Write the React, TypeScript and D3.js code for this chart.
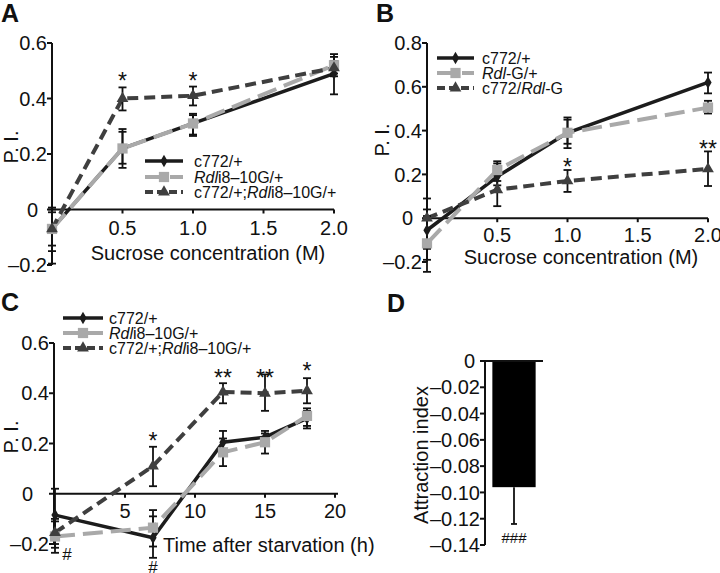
import React from 'react';
import * as d3 from 'd3';

const FONT = '"Liberation Sans", Arial, Helvetica, sans-serif';

// ---------- Data ----------
const sucrose = [0, 0.5, 1.0, 2.0];
const sucroseTicks = [0.5, 1.0, 1.5, 2.0];
const piTicksAC = [-0.2, 0, 0.2, 0.4, 0.6];
const piTicksB = [-0.2, 0, 0.2, 0.4, 0.6, 0.8];

// Panel A
const aC772 = [-0.07, 0.22, 0.31, 0.49];
const aC772Lo = [-0.13, 0.15, 0.27, 0.415];
const aC772Hi = [-0.01, 0.29, 0.345, 0.56];
const aRdl = [-0.07, 0.22, 0.31, 0.52];
const aRdlLo = [-0.15, 0.165, 0.265, 0.49];
const aRdlHi = [0.007, 0.28, 0.34, 0.55];
const aCross = [-0.07, 0.40, 0.41, 0.51];
const aCrossLo = [-0.195, 0.357, 0.375, 0.48];
const aCrossHi = [0.0, 0.44, 0.443, 0.535];
const aStarX = [0.5, 1.0];
const aStarY = [0.48, 0.48];
const aStarText = ['*', '*'];

// Panel B
const bC772 = [-0.055, 0.19, 0.39, 0.62];
const bC772Lo = [-0.14, 0.15, 0.32, 0.57];
const bC772Hi = [0.04, 0.26, 0.46, 0.665];
const bRdl = [-0.115, 0.22, 0.39, 0.505];
const bRdlLo = [-0.245, 0.17, 0.34, 0.478];
const bRdlHi = [0.01, 0.25, 0.45, 0.536];
const bCross = [0.0, 0.13, 0.17, 0.225];
const bCrossLo = [-0.19, 0.055, 0.12, 0.147];
const bCrossHi = [0.09, 0.2, 0.22, 0.305];
const bStarX = [1.0, 2.0];
const bStarY = [0.255, 0.34];
const bStarText = ['*', '**'];

// Panel C
const hours = [0, 7, 12, 15, 18];
const hourTicks = [5, 10, 15, 20];
const cC772 = [-0.085, -0.175, 0.205, 0.225, 0.30];
const cC772Lo = [-0.215, -0.255, 0.16, 0.19, 0.26];
const cC772Hi = [0.02, -0.065, 0.25, 0.25, 0.34];
const cRdl = [-0.17, -0.135, 0.165, 0.205, 0.31];
const cRdlLo = [-0.235, -0.21, 0.11, 0.16, 0.27];
const cRdlHi = [-0.11, -0.09, 0.22, 0.24, 0.33];
const cCross = [-0.155, 0.11, 0.405, 0.40, 0.41];
const cCrossLo = [-0.2, 0.03, 0.36, 0.33, 0.36];
const cCrossHi = [-0.1, 0.187, 0.44, 0.475, 0.46];
const cStarX = [7, 12, 15, 18];
const cStarY = [0.23, 0.48, 0.48, 0.51];
const cStarText = ['*', '**', '**', '*'];
const cHashX = [0, 7];
const cHashY = [-0.24, -0.29];

// Panel D
const dValue = -0.096;
const dErrLow = -0.124;
const dTicks = [0, -0.02, -0.04, -0.06, -0.08, -0.10, -0.12, -0.14];

// ---------- Styles ----------
type Kind = 'c772' | 'rdl' | 'cross';
const STYLE: Record<Kind, { color: string; width: number; dash: string; symbol: d3.SymbolType; size: number }> = {
  c772: { color: '#1c1c1c', width: 3.5, dash: '', symbol: d3.symbolDiamond, size: 45 },
  rdl: { color: '#a9a9a9', width: 4, dash: '20 8', symbol: d3.symbolSquare, size: 105 },
  cross: { color: '#3f3f3f', width: 4, dash: '11 6', symbol: d3.symbolTriangle, size: 60 },
};

const FS = 20;

const fmtPI = (v: number) => (v === 0 ? '0' : v < 0 ? '–' + Math.abs(v).toFixed(1) : v.toFixed(1));
const fmtD = (v: number) => (v === 0 ? '0' : '–' + Math.abs(v).toFixed(2));

interface Series { kind: Kind; values: number[]; lo: number[]; hi: number[] }

function Marks({ xs, series, x, y }: { xs: number[]; series: Series[]; x: any; y: any }) {
  const line = d3.line<number>().x((_, i) => x(xs[i])).y((d) => y(d));
  return (
    <g>
      {series.map((s) => {
        const st = STYLE[s.kind];
        return (
          <path key={s.kind + 'l'} d={line(s.values) || ''} fill="none" stroke={st.color}
            strokeWidth={st.width} strokeDasharray={st.dash} />
        );
      })}
      {series.map((s) =>
        s.values.map((_, i) => (
          <g key={s.kind + 'e' + i} stroke="#111" strokeWidth={1.8}>
            <line x1={x(xs[i])} x2={x(xs[i])} y1={y(s.lo[i])} y2={y(s.hi[i])} />
            <line x1={x(xs[i]) - 4} x2={x(xs[i]) + 4} y1={y(s.lo[i])} y2={y(s.lo[i])} />
            <line x1={x(xs[i]) - 4} x2={x(xs[i]) + 4} y1={y(s.hi[i])} y2={y(s.hi[i])} />
          </g>
        ))
      )}
      {series.map((s) => {
        const st = STYLE[s.kind];
        const sym = d3.symbol().type(st.symbol).size(st.size)();
        return s.values.map((v, i) => (
          <path key={s.kind + 'm' + i} d={sym || ''} transform={`translate(${x(xs[i])},${y(v)})`} fill={st.color} />
        ));
      })}
    </g>
  );
}

function Legend({ x0, x1, tx, ys, labels }: { x0: number; x1: number; tx: number; ys: number[]; labels: React.ReactNode[] }) {
  const kinds: Kind[] = ['c772', 'rdl', 'cross'];
  return (
    <g>
      {kinds.map((k, i) => {
        const st = STYLE[k];
        const sym = d3.symbol().type(st.symbol).size(st.size)();
        const mx = (x0 + x1) / 2;
        return (
          <g key={k}>
            <line x1={x0} x2={x1} y1={ys[i]} y2={ys[i]} stroke={st.color} strokeWidth={st.width}
              strokeDasharray={k === 'rdl' ? '20 5 0 0' : k === 'cross' ? '8 4' : ''} />
            <path d={sym || ''} transform={`translate(${mx},${ys[i]})`} fill={st.color} />
            <text x={tx} y={ys[i]} dy="0.36em" fontSize={16} fill="#111">{labels[i]}</text>
          </g>
        );
      })}
    </g>
  );
}

const It = ({ children }: { children: React.ReactNode }) => <tspan fontStyle="italic">{children}</tspan>;

const labelsRdli = [
  <>c772/+</>,
  <><It>Rdl</It>i8–10G/+</>,
  <>c772/+;<It>Rdl</It>i8–10G/+</>,
];
const labelsRdlG = [
  <>c772/+</>,
  <><It>Rdl</It>-G/+</>,
  <>c772/<It>Rdl</It>-G</>,
];

function YAxis({ y, ax, ticks, fmt, zeroShift }: { y: any; ax: number; ticks: number[]; fmt: (v: number) => string; zeroShift: number }) {
  const [a, b] = d3.extent(ticks) as [number, number];
  return (
    <g>
      <line x1={ax} x2={ax} y1={y(a)} y2={y(b)} stroke="#111" strokeWidth={2} />
      {ticks.map((t) => (
        <g key={t}>
          <line x1={ax - 5} x2={ax} y1={y(t)} y2={y(t)} stroke="#111" strokeWidth={2} />
          <text x={ax - 5 - (t === 0 ? zeroShift : 0)} y={y(t)} dy="0.36em" textAnchor="end" fontSize={FS} fill="#111">{fmt(t)}</text>
        </g>
      ))}
    </g>
  );
}

function XAxis({ x, y0, x0, x1, ticks, labelY, fmt }: { x: any; y0: number; x0: number; x1: number; ticks: number[]; labelY: number; fmt: (v: number) => string }) {
  return (
    <g>
      <line x1={x0} x2={x1} y1={y0} y2={y0} stroke="#111" strokeWidth={2} />
      {ticks.map((t) => (
        <g key={t}>
          <line x1={x(t)} x2={x(t)} y1={y0} y2={y0 + 4} stroke="#111" strokeWidth={2} />
          <text x={x(t)} y={labelY} textAnchor="middle" fontSize={FS} fill="#111">{fmt(t)}</text>
        </g>
      ))}
    </g>
  );
}

function Stars({ xs, ys, texts, x, y }: { xs: number[]; ys: number[]; texts: string[]; x: any; y: any }) {
  return (
    <g>
      {xs.map((v, i) => (
        <text key={i} x={x(v)} y={y(ys[i]) + 13} textAnchor="middle" fontSize={23} fill="#111">{texts[i]}</text>
      ))}
    </g>
  );
}

export default function App() {
  const xA = d3.scaleLinear().domain([0, 2]).range([52, 334]);
  const yA = d3.scaleLinear().domain([-0.2, 0.6]).range([265, 43]);
  const xB = d3.scaleLinear().domain([0, 2]).range([427, 708]);
  const yB = d3.scaleLinear().domain([-0.2, 0.8]).range([262, 43]);
  const xC = d3.scaleLinear().domain([0, 20]).range([55, 335]);
  const yC = d3.scaleLinear().domain([-0.2, 0.6]).range([544, 343]);
  const yD = d3.scaleLinear().domain([-0.14, 0]).range([545, 361]);
  const xD = d3.scaleBand().domain(['bar']).range([485, 543]).paddingInner(0).paddingOuter(0.17);

  const fmtX = (v: number) => v.toFixed(1);

  const seriesA: Series[] = [
    { kind: 'c772', values: aC772, lo: aC772Lo, hi: aC772Hi },
    { kind: 'rdl', values: aRdl, lo: aRdlLo, hi: aRdlHi },
    { kind: 'cross', values: aCross, lo: aCrossLo, hi: aCrossHi },
  ];
  const seriesB: Series[] = [
    { kind: 'c772', values: bC772, lo: bC772Lo, hi: bC772Hi },
    { kind: 'rdl', values: bRdl, lo: bRdlLo, hi: bRdlHi },
    { kind: 'cross', values: bCross, lo: bCrossLo, hi: bCrossHi },
  ];
  const seriesC: Series[] = [
    { kind: 'c772', values: cC772, lo: cC772Lo, hi: cC772Hi },
    { kind: 'rdl', values: cRdl, lo: cRdlLo, hi: cRdlHi },
    { kind: 'cross', values: cCross, lo: cCrossLo, hi: cCrossHi },
  ];

  const barX = xD('bar') as number;
  const barW = xD.bandwidth();
  const barMid = barX + barW / 2;

  return (
    <svg width={720} height={573} viewBox="0 0 720 573"
      style={{ position: 'absolute', left: 0, top: 0, background: '#fff' }} fontFamily={FONT}>
      <rect width={720} height={573} fill="#fff" />
      <g fontSize={25} fontWeight="bold" fill="#111">
        <text x={1} y={22}>A</text>
        <text x={376} y={22}>B</text>
        <text x={1} y={311}>C</text>
        <text x={387} y={312}>D</text>
      </g>

      {/* Panel A */}
      <YAxis y={yA} ax={52} ticks={piTicksAC} fmt={fmtPI} zeroShift={9} />
      <XAxis x={xA} y0={yA(0)} x0={52} x1={334} ticks={sucroseTicks} labelY={235} fmt={fmtX} />
      <Marks xs={sucrose} series={seriesA} x={xA} y={yA} />
      <Stars xs={aStarX} ys={aStarY} texts={aStarText} x={xA} y={yA} />
      <Legend x0={145} x1={183} tx={194} ys={[161, 177, 192]} labels={labelsRdli} />
      <text x={208} y={260} textAnchor="middle" fontSize={FS} fill="#111">Sucrose concentration (M)</text>
      <text transform="translate(11,147) rotate(-90)" textAnchor="middle" dy="0.36em" fontSize={FS} fill="#111">P. I.</text>

      {/* Panel B */}
      <YAxis y={yB} ax={427} ticks={piTicksB} fmt={fmtPI} zeroShift={9} />
      <XAxis x={xB} y0={yB(0)} x0={427} x1={708} ticks={sucroseTicks} labelY={242} fmt={fmtX} />
      <Marks xs={sucrose} series={seriesB} x={xB} y={yB} />
      <Stars xs={bStarX} ys={bStarY} texts={bStarText} x={xB} y={yB} />
      <Legend x0={437} x1={474} tx={482} ys={[58, 73, 88]} labels={labelsRdlG} />
      <text x={581} y={264} textAnchor="middle" fontSize={FS} fill="#111">Sucrose concentration (M)</text>
      <text transform="translate(382,140) rotate(-90)" textAnchor="middle" dy="0.36em" fontSize={FS} fill="#111">P. I.</text>

      {/* Panel C */}
      <YAxis y={yC} ax={54} ticks={piTicksAC} fmt={fmtPI} zeroShift={16} />
      <XAxis x={xC} y0={yC(0)} x0={54} x1={338} ticks={hourTicks} labelY={518} fmt={(v) => String(v)} />
      <Marks xs={hours} series={seriesC} x={xC} y={yC} />
      <Stars xs={cStarX} ys={cStarY} texts={cStarText} x={xC} y={yC} />
      {cHashX.map((h, i) => (
        <text key={i} x={xC(h) + (i === 0 ? 12 : 0)} y={yC(cHashY[i]) + 6} textAnchor="middle" fontSize={17} fill="#111">#</text>
      ))}
      <Legend x0={63} x1={103} tx={109} ys={[318, 333, 348]} labels={labelsRdli} />
      <text x={163} y={552} fontSize={FS} fill="#111">Time after starvation (h)</text>
      <text transform="translate(11,437) rotate(-90)" textAnchor="middle" dy="0.36em" fontSize={FS} fill="#111">P. I.</text>

      {/* Panel D */}
      <rect x={barX} y={yD(0)} width={barW} height={yD(dValue) - yD(0)} fill="#000" />
      <g stroke="#111" strokeWidth={1.8}>
        <line x1={barMid} x2={barMid} y1={yD(dValue)} y2={yD(dErrLow)} />
        <line x1={barMid - 3} x2={barMid + 3} y1={yD(dErrLow)} y2={yD(dErrLow)} />
      </g>
      <YAxis y={yD} ax={485} ticks={dTicks} fmt={fmtD} zeroShift={5} />
      <line x1={485} x2={543} y1={yD(0)} y2={yD(0)} stroke="#111" strokeWidth={2} />
      <text x={barMid} y={yD(dErrLow) + 19} textAnchor="middle" fontSize={15} fill="#111">###</text>
      <text transform="translate(421,455) rotate(-90)" textAnchor="middle" dy="0.36em" fontSize={FS} fill="#111">Attraction index</text>
    </svg>
  );
}
